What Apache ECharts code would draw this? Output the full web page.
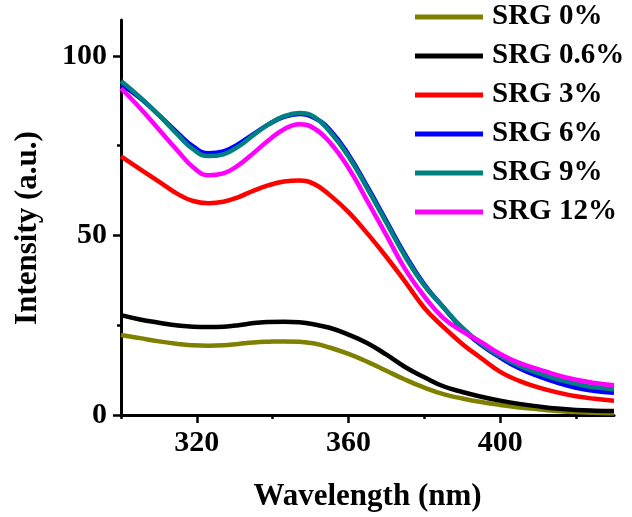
<!DOCTYPE html>
<html>
<head>
<meta charset="utf-8">
<script src="https://cdn.jsdelivr.net/npm/echarts@6/dist/echarts.min.js"></script>
<style>
html,body{margin:0;padding:0;background:#fff;}
#chart{width:632px;height:517px;}
</style>
</head>
<body>
<div id="chart"></div>
<script>
// ---- data ----
var wavelengths = [300,305,310,315,319,323,327,331,335,339,343,347,351,355,360,365,370,375,380,385,390,395,400,405,410,415,420,425,430];
var seriesNames = ['SRG 0%','SRG 0.6%','SRG 3%','SRG 6%','SRG 9%','SRG 12%'];
var srg0   = [22.3,21.4,20.5,19.8,19.4,19.3,19.4,19.8,20.2,20.4,20.5,20.4,19.9,18.8,17.0,14.8,12.3,9.8,7.6,5.8,4.6,3.6,2.8,2.1,1.6,1.1,0.8,0.6,0.5];
var srg06  = [27.8,26.6,25.7,24.9,24.6,24.5,24.6,25.0,25.6,25.9,26.0,25.8,25.2,24.3,22.4,20.0,16.8,13.3,10.5,8.0,6.4,5.1,4.0,3.1,2.4,1.8,1.4,1.2,1.1];
var srg3   = [72.0,68.5,65.0,61.5,59.6,59.0,59.4,60.7,62.5,64.0,65.0,65.3,64.3,61.3,56.5,50.5,44.0,37.0,29.8,24.5,19.8,15.8,12.0,9.5,7.7,6.3,5.2,4.5,4.0];
var srg6   = [92.0,88.3,83.5,78.5,74.8,72.9,73.4,75.5,78.3,81.0,83.0,83.8,82.7,79.5,72.5,63.5,54.0,44.5,36.3,30.0,24.0,19.5,16.0,13.0,10.8,9.0,7.6,6.7,6.2];
var srg9   = [93.0,88.5,83.5,78.0,74.0,72.1,72.6,74.8,78.0,81.0,83.2,84.1,83.0,79.0,72.0,63.0,53.5,44.0,36.0,30.0,24.3,19.8,16.4,13.7,11.7,10.0,8.7,7.7,7.2];
var srg12  = [91.0,85.5,79.5,73.5,69.0,66.8,67.3,69.6,73.0,76.6,79.6,81.0,79.8,76.0,68.8,59.5,50.0,40.5,33.0,27.0,23.3,20.3,17.0,14.5,12.8,11.1,9.8,8.9,8.3];
var xMajorTicks = [320,360,400];
var xMinorTicks = [300,340,380,420];
var yMajorTicks = [0,50,100];
var yMinorTicks = [25,75];
var colors = ['#808000','#000000','#FF0000','#0000FF','#008080','#FF00FF'];

var allValues = [srg0, srg06, srg3, srg6, srg9, srg12];
function pairs(vals){ return wavelengths.map(function(w,i){ return [w, vals[i]]; }); }

var FONT = 'Liberation Serif';
var chart = echarts.init(document.getElementById('chart'), null, {renderer:'canvas'});
var series = seriesNames.map(function(n,i){
  return {
    name: n, type: 'line', data: pairs(allValues[i]),
    smooth: 0.45, symbol: 'none', showSymbol: false,
    xAxisIndex: 0, yAxisIndex: 0,
    lineStyle: {color: colors[i], width: 4.5},
    itemStyle: {color: colors[i]},
    animation: false
  };
});

var option = {
  backgroundColor: '#fff',
  animation: false,
  grid: {left: 121, right: 18, top: 20, bottom: 98},
  graphic: [{
    type: 'text', x: 28, y: 228, rotation: Math.PI / 2,
    style: {text: 'Intensity (a.u.)', font: 'bold 31px "Liberation Serif"', fill: '#000', align: 'center', verticalAlign: 'middle'}
  }],
  legend: {
    orient: 'vertical', left: 415, top: 2, padding: 0,
    itemWidth: 68, itemHeight: 14, itemGap: 9,
    data: seriesNames.map(function(n,i){ return {name: n, icon: 'path://M0,0 L68,0 L68,5 L0,5 Z', itemStyle:{color: colors[i]}}; }),
    textStyle: {fontFamily: FONT, fontWeight: 'bold', fontSize: 29, color: '#000', lineHeight: 30, padding: [0,0,0,4]}
  },
  xAxis: [{
    type: 'value', min: 300, max: 430, position: 'bottom',
    name: 'Wavelength (nm)', nameLocation: 'middle', nameGap: 66,
    nameTextStyle: {fontFamily: FONT, fontWeight: 'bold', fontSize: 31, color: '#000'},
    axisLine: {show: true, lineStyle: {color: '#000', width: 3}},
    axisTick: {show: true, customValues: xMajorTicks, length: 8, lineStyle: {color: '#000', width: 2.5}},
    axisLabel: {customValues: xMajorTicks, margin: 13, fontFamily: FONT, fontWeight: 'bold', fontSize: 30, color: '#000'},
    splitLine: {show: false}
  },{
    type: 'value', min: 300, max: 430, position: 'bottom',
    axisLine: {show: false},
    axisTick: {show: true, customValues: xMinorTicks, length: 4, lineStyle: {color: '#000', width: 2.5}},
    axisLabel: {show: false},
    splitLine: {show: false}
  }],
  yAxis: [{
    type: 'value', min: 0, max: 110, position: 'left',
    axisLine: {show: true, lineStyle: {color: '#000', width: 3}},
    axisTick: {show: true, customValues: yMajorTicks, length: 8, lineStyle: {color: '#000', width: 2.5}},
    axisLabel: {customValues: yMajorTicks, margin: 14, fontFamily: FONT, fontWeight: 'bold', fontSize: 30, color: '#000'},
    splitLine: {show: false}
  },{
    type: 'value', min: 0, max: 110, position: 'left',
    axisLine: {show: false},
    axisTick: {show: true, customValues: yMinorTicks, length: 4, lineStyle: {color: '#000', width: 2.5}},
    axisLabel: {show: false},
    splitLine: {show: false}
  }],
  series: series
};
chart.setOption(option);
</script>
</body>
</html>
